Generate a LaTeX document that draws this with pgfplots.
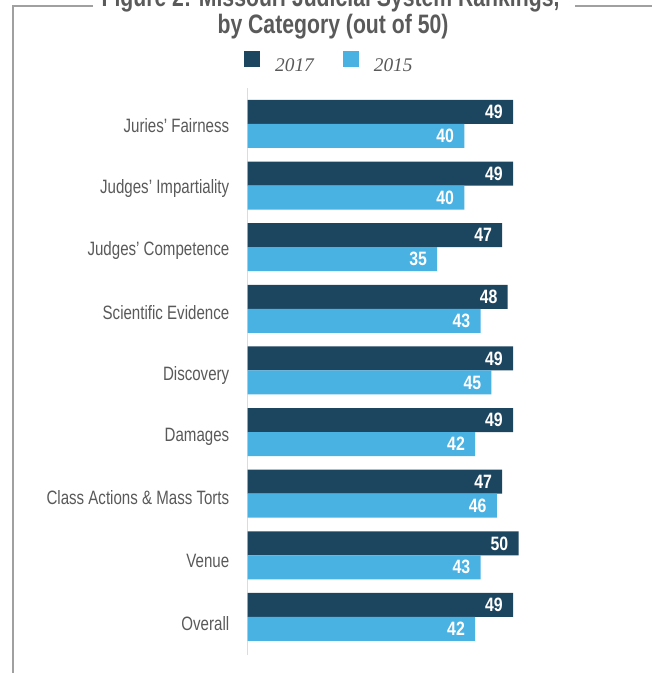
\documentclass[border=0pt]{standalone}
\usepackage{pgfplots}
\pgfplotsset{compat=1.18}
\usepackage{fontspec}
\setmainfont{Liberation Sans}
\newfontfamily\condfont[FakeStretch=0.78]{Liberation Sans}
\newfontfamily\numfont[FakeStretch=0.82]{Liberation Sans}
\newfontfamily\titlefont[FakeStretch=0.795]{Liberation Sans}
\newfontfamily\legfont{Liberation Serif}
\definecolor{dark}{HTML}{1C4560}
\definecolor{light}{HTML}{4AB1E3}
\definecolor{txt}{HTML}{595959}
\definecolor{titlec}{HTML}{5A5A5A}
\definecolor{framec}{HTML}{A0A0A0}
\definecolor{axline}{HTML}{DCDCDC}
\begin{document}
\begin{tikzpicture}
\begin{scope}[x=0.75pt,y=0.75pt]
\useasboundingbox (0,0) rectangle (652,673);
\clip (0,0) rectangle (652,673);
\draw[framec, line width=1.5pt] (93,667) -- (13,667) -- (13,0);
\draw[framec, line width=1.5pt] (575,667) -- (652,667);
\node[anchor=base, text=titlec, inner sep=0pt, font=\titlefont\bfseries\fontsize{20}{24}\selectfont] at (330.5,666) {Figure 2: Missouri Judicial System Rankings,};
\node[anchor=base, text=titlec, inner sep=0pt, font=\titlefont\bfseries\fontsize{20}{24}\selectfont] at (333,639.5) {by Category (out of 50)};
\end{scope}
\begin{axis}[
  at={(185.625pt,13.5pt)}, anchor=south west,
  scale only axis, width=203.25pt, height=425.25pt,
  xmin=0, xmax=50, ymin=-0.617, ymax=8.584,
  xbar, bar width=18pt,
  axis x line=none, axis y line=left,
  axis line style={-, axline, line width=1.2pt},
  ytick={-0.114,0.903,1.935,2.919,3.919,4.935,5.951,6.951,7.968},
  yticklabels={Overall, Venue, Class Actions \& Mass Torts, Damages, Discovery, Scientific Evidence, Judges’ Competence, Judges’ Impartiality, Juries’ Fairness},
  major tick length=0pt,
  yticklabel style={font=\condfont\fontsize{14.5}{16}\selectfont, text=txt, inner sep=0pt, xshift=-13.5pt},
  clip=false,
  nodes near coords={\pgfmathprintnumber[assume math mode=true]{\pgfplotspointmeta}},
  point meta=x,
  every node near coord/.append style={anchor=east, inner sep=0pt, xshift=-7.5pt, text=white, font=\numfont\bfseries\fontsize{14.5}{16}\selectfont},
  legend columns=2,
  legend image code/.code={\fill[#1] (0pt,-0.5pt) rectangle (12pt,11.5pt);},
  legend style={draw=none, fill=none, at={(-0.013,1.046)}, anchor=west, inner sep=0pt,
    nodes={inner sep=0pt, text=txt, font=\legfont\itshape\fontsize{14.5}{16}\selectfont},
    /tikz/every odd column/.append style={column sep=11.25pt},
    /tikz/every even column/.append style={column sep=21.75pt}},
]
\addplot[fill=dark, draw=none, bar shift=9pt] coordinates {(49,8) (49,7) (47,6) (48,5) (49,4) (49,3) (47,2) (50,1) (49,0)};
\addplot[fill=light, draw=none, bar shift=-9pt] coordinates {(40,8) (40,7) (35,6) (43,5) (45,4) (42,3) (46,2) (43,1) (42,0)};
\legend{2017, 2015}
\end{axis}
\end{tikzpicture}
\end{document}
